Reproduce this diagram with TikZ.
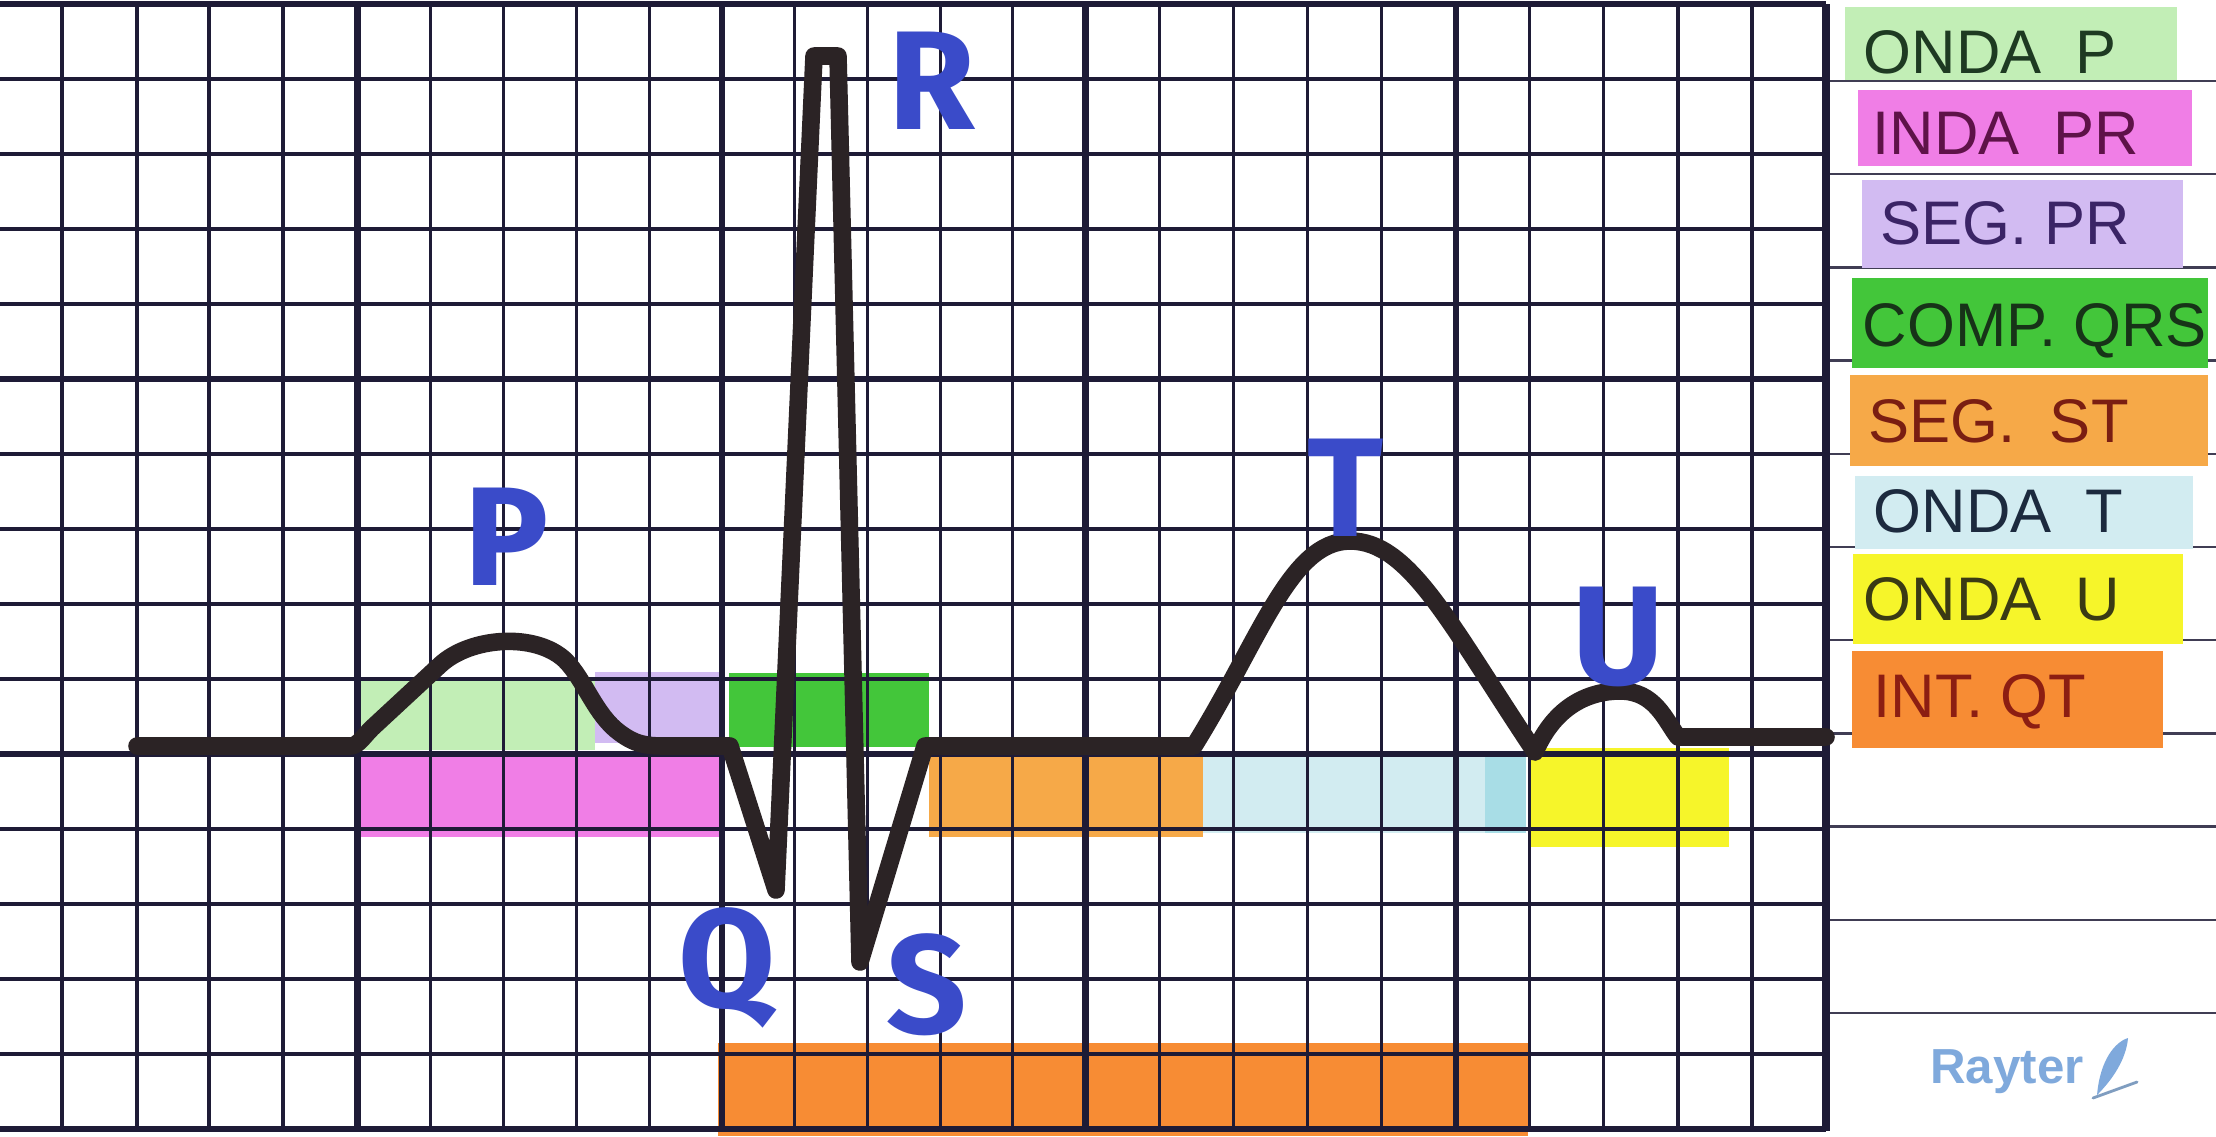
\documentclass[tikz,border=0pt]{standalone}
\usepackage{fontspec}
\setmainfont{Liberation Sans}
\newfontfamily\bigfont{Fira Sans}
\definecolor{gridc}{HTML}{1E1B36}
\definecolor{ink}{HTML}{2B2325}
\definecolor{lblue}{HTML}{3A4BC9}
\definecolor{sigc}{HTML}{7FA9DC}
\definecolor{cPwave}{HTML}{C2EEB6}
\definecolor{cPRint}{HTML}{F07EE6}
\definecolor{cPRseg}{HTML}{D2BBF2}
\definecolor{cQRS}{HTML}{43C63A}
\definecolor{cST}{HTML}{F6A948}
\definecolor{cTwave}{HTML}{D2ECF1}
\definecolor{cTcyan}{HTML}{A8DDE6}
\definecolor{cUwave}{HTML}{F6F52A}
\definecolor{cQT}{HTML}{F78C34}
\definecolor{tP}{HTML}{1E3A22}
\definecolor{tPR}{HTML}{5E1248}
\definecolor{tSPR}{HTML}{3B2466}
\definecolor{tQRS}{HTML}{173318}
\definecolor{tST}{HTML}{7A1E12}
\definecolor{tT}{HTML}{1C2A3E}
\definecolor{tU}{HTML}{3A3A14}
\definecolor{tQT}{HTML}{8C1E12}
\tikzset{
  gthin/.style={draw=gridc, line width=0.9pt},
  gthick/.style={draw=gridc, line width=1.8pt},
  legline/.style={draw=gridc!85, line width=0.7pt},
  trace/.style={draw=ink, line width=5pt, line cap=round, line join=round},
  wlabel/.style={font=\bigfont\bfseries\fontsize{40}{40}\selectfont, text=lblue, inner sep=0pt},
  legtext/.style={font=\fontsize{17.5}{18}\selectfont, anchor=base west, inner sep=0pt},
}
\begin{document}
\begin{tikzpicture}[x=0.01cm, y=-0.01cm]
\useasboundingbox (0,0) rectangle (2216,1136);
\fill[white] (0,0) rectangle (2216,1136);

% ---- coloured highlights in the chart
\fill[cPwave] (358,677) rectangle (595,750);
\fill[cPRseg] (595,672) rectangle (720,743);
\fill[cQRS]   (729,673) rectangle (929,747);
\fill[cPRint] (356,757) rectangle (720,837);
\fill[cST]    (929,757) rectangle (1203,837);
\fill[cTwave] (1203,753) rectangle (1526,833);
\fill[cTcyan] (1485,753) rectangle (1526,833);
\fill[cUwave] (1529,748) rectangle (1729,847);
\fill[cQT]    (718,1043) rectangle (1528,1136);

% ---- legend ruling (under the highlighter)
\foreach \k in {0,...,10}
  \draw[legline] (1826,{81+93.2*\k}) -- (2216,{81+93.2*\k});

% ---- legend stripes
\fill[cPwave] (1845,7)   rectangle (2177,80);
\fill[cPRint] (1858,90)  rectangle (2192,166);
\fill[cPRseg] (1862,180) rectangle (2183,268);
\fill[cQRS]   (1852,278) rectangle (2208,368);
\fill[cST]    (1850,375) rectangle (2208,466);
\fill[cTwave] (1855,476) rectangle (2193,549);
\fill[cUwave] (1853,554) rectangle (2183,644);
\fill[cQT]    (1852,651) rectangle (2163,748);

% ---- grid
\foreach \j in {1,2,3,4,6,7,8,9,11,12,13,14}
  \draw[gthin] (0,{4+75*\j}) -- (1826,{4+75*\j});
\foreach \y in {4,379,754,1129}
  \draw[gthick] (0,\y) -- (1826,\y);
\foreach \x in {62,137,209,283,430.5,503.4,576.4,649.3,794.8,867.4,940.1,1012.7,1159.5,1233.5,1307.6,1381.6,1529.8,1603.8,1677.9,1752}
  \draw[gthin] (\x,4) -- (\x,1131);
\foreach \x in {357.6,722.2,1085.4,1455.7}
  \draw[gthick] (\x,4) -- (\x,1131);
\draw[gridc, line width=2.4pt] (1826,4) -- (1826,1131);

% ---- ECG trace
\draw[trace] (137,746) -- (350,746)
  .. controls (358,746) and (362,738) .. (372,728)
  -- (440,665)
  .. controls (470,637) and (535,632) .. (565,660)
  .. controls (585,680) and (595,715) .. (620,733)
  .. controls (635,744) and (645,746) .. (665,746)
  -- (730,746)
  -- (776,890)
  -- (814,56) -- (838,56)
  -- (860,962)
  -- (925,746)
  -- (1194,746)
  .. controls (1260,640) and (1290,541) .. (1350,541)
  .. controls (1410,541) and (1450,625) .. (1535,752)
  .. controls (1555,705) and (1590,691) .. (1620,691)
  .. controls (1655,691) and (1665,720) .. (1678,737)
  -- (1826,737);

% ---- wave labels
\node[wlabel] (labP) at (507,537) {P};
\node[wlabel] (labR) at (932,81) {R};
\node[wlabel] (labT) at (1345,488) {T};
\node[wlabel] (labU) at (1618,637) {U};
\node[wlabel] (labQ) at (727,968) {Q};
\node[wlabel] (labS) at (927,985) {S};

% ---- legend texts
\node[legtext, text=tP]   (leg1) at (1863,73)  {ONDA\ \ P};
\node[legtext, text=tPR]  (leg2) at (1872,154) {INDA\ \ PR};
\node[legtext, text=tSPR] (leg3) at (1880,244) {SEG.\ PR};
\node[legtext, text=tQRS] (leg4) at (1862,346) {COMP.\ QRS};
\node[legtext, text=tST]  (leg5) at (1868,442) {SEG.\ \ ST};
\node[legtext, text=tT]   (leg6) at (1873,532) {ONDA\ \ T};
\node[legtext, text=tU]   (leg7) at (1863,620) {ONDA\ \ U};
\node[legtext, text=tQT]  (leg8) at (1873,717) {INT.\ QT};

% ---- signature
\node[font=\bfseries\fontsize{14}{14}\selectfont, text=sigc, inner sep=0pt] (sig) at (2007,1072) {Rayter};
\fill[sigc] (2097,1095) .. controls (2100,1060) and (2115,1042) .. (2128,1038)
  .. controls (2126,1060) and (2112,1080) .. (2097,1095) -- cycle;
\draw[sigc!70!gray, line width=0.8pt, line cap=round] (2093,1098) -- (2137,1082);
\end{tikzpicture}
\end{document}
